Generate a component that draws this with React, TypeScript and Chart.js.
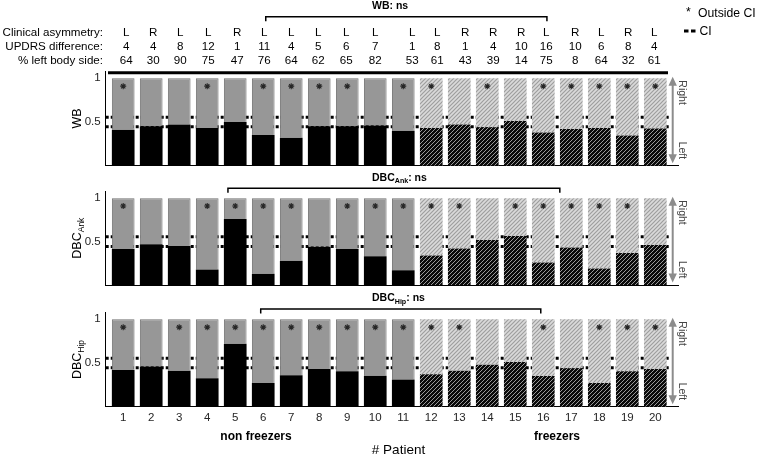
import React, { useEffect, useRef } from 'react';
import { Chart, registerables } from 'chart.js';
Chart.register(...registerables);

// ---------------- data ----------------
const patients = [1, 2, 3, 4, 5, 6, 7, 8, 9, 10, 11, 12, 13, 14, 15, 16, 17, 18, 19, 20];
const group = ['N', 'N', 'N', 'N', 'N', 'N', 'N', 'N', 'N', 'N', 'N', 'F', 'F', 'F', 'F', 'F', 'F', 'F', 'F', 'F'];
const clinicalAsymmetry = ['L', 'R', 'L', 'L', 'R', 'L', 'L', 'L', 'L', 'L', 'L', 'L', 'R', 'R', 'R', 'L', 'R', 'L', 'R', 'L'];
const updrsDifference = [4, 4, 8, 12, 1, 11, 4, 5, 6, 7, 1, 8, 1, 4, 10, 16, 10, 6, 8, 4];
const percentLeftBodySide = [64, 30, 90, 75, 47, 76, 64, 62, 65, 82, 53, 61, 43, 39, 14, 75, 8, 64, 32, 61];

const wbLeft = [0.41, 0.45, 0.47, 0.43, 0.5, 0.35, 0.32, 0.45, 0.45, 0.46, 0.4, 0.43, 0.47, 0.44, 0.51, 0.38, 0.42, 0.43, 0.345, 0.425];
const wbOutsideCI = [1, 0, 0, 1, 0, 1, 1, 1, 1, 0, 1, 1, 0, 1, 0, 1, 1, 1, 1, 1];
const ankLeft = [0.415, 0.47, 0.45, 0.18, 0.76, 0.13, 0.28, 0.44, 0.415, 0.33, 0.17, 0.34, 0.42, 0.52, 0.565, 0.26, 0.43, 0.19, 0.37, 0.46];
const ankOutsideCI = [1, 0, 0, 1, 1, 1, 1, 0, 1, 1, 1, 1, 1, 0, 1, 1, 1, 1, 1, 0];
const hipLeft = [0.42, 0.46, 0.41, 0.325, 0.72, 0.27, 0.36, 0.43, 0.405, 0.355, 0.31, 0.37, 0.41, 0.48, 0.51, 0.35, 0.44, 0.27, 0.405, 0.43];
const hipOutsideCI = [1, 0, 1, 1, 1, 1, 1, 1, 1, 1, 1, 1, 1, 0, 0, 1, 0, 1, 1, 1];

const ciLower = 0.445;
const ciUpper = 0.555;
const starLevel = 0.91;
const yTickValues = [0.5, 1];
const wbBracket = [6.09, 16.13];
const ankBracket = [4.74, 16.59];
const hipBracket = [5.91, 15.91];

// ---------------- layout / style ----------------
const W = 761;
const H = 457;
const FONT = '"Liberation Sans", Arial, Helvetica, sans-serif';
const X_MIN = 0.375;
const X_MAX = 20.81;
const CI_END = 20.5;
const AREA_LEFT = 105.7;
const AREA_RIGHT = 678;
const Y_AXIS_W = 40;
const X_AXIS_H = 30;
const headerNudge = [3, 2, 1, 1, 2, 1, 0, -1, -1, 0, 9, 6, 6, 6, 6, 3, 4, 2, 1, -1];

type Panel = {
  title: string;
  sub: string;
  left: number[];
  outside: number[];
  bracket: number[];
  top: number;
  bottom: number;
  bracketY: number;
  labelY: number;
  first: boolean;
  last: boolean;
};

const panels: Panel[] = [
  { title: 'WB', sub: '', left: wbLeft, outside: wbOutsideCI, bracket: wbBracket, top: 71.3, bottom: 165.7, bracketY: 16.7, labelY: 6, first: true, last: false },
  { title: 'DBC', sub: 'Ank', left: ankLeft, outside: ankOutsideCI, bracket: ankBracket, top: 191.3, bottom: 285, bracketY: 188.3, labelY: 178, first: false, last: false },
  { title: 'DBC', sub: 'Hip', left: hipLeft, outside: hipOutsideCI, bracket: hipBracket, top: 312.3, bottom: 406.7, bracketY: 309, labelY: 298.5, first: false, last: true },
];

function makeHatch(ctx: CanvasRenderingContext2D, base: string, stripe: string, lw: number) {
  const c = document.createElement('canvas');
  c.width = 4;
  c.height = 4;
  const g = c.getContext('2d')!;
  g.fillStyle = base;
  g.fillRect(0, 0, 4, 4);
  g.strokeStyle = stripe;
  g.lineWidth = lw;
  g.beginPath();
  g.moveTo(-1, 5);
  g.lineTo(5, -1);
  g.moveTo(-1, 1);
  g.lineTo(1, -1);
  g.moveTo(3, 5);
  g.lineTo(5, 3);
  g.stroke();
  return ctx.createPattern(c, 'repeat') as CanvasPattern;
}

function drawMixed(ctx: CanvasRenderingContext2D, parts: { t: string; sub?: boolean }[], x: number, y: number, size: number, bold: boolean) {
  const w = bold ? 'bold ' : '';
  let cx = x;
  parts.forEach((p) => {
    const s = p.sub ? size * 0.68 : size;
    ctx.font = `${w}${s}px ${FONT}`;
    ctx.fillText(p.t, cx, y + (p.sub ? size * 0.3 : 0));
    cx += ctx.measureText(p.t).width;
  });
  return cx - x;
}

function measureMixed(ctx: CanvasRenderingContext2D, parts: { t: string; sub?: boolean }[], size: number, bold: boolean) {
  const w = bold ? 'bold ' : '';
  let total = 0;
  parts.forEach((p) => {
    const s = p.sub ? size * 0.68 : size;
    ctx.font = `${w}${s}px ${FONT}`;
    total += ctx.measureText(p.t).width;
  });
  return total;
}

function decoPlugin(p: Panel) {
  return {
    id: 'deco',
    afterDraw(chart: any) {
      const { ctx, chartArea: a, scales } = chart;
      const x = scales.x;
      const y = scales.y;
      ctx.save();
      ctx.fillStyle = '#000';
      ctx.textBaseline = 'middle';

      // y axis title
      const titleParts = p.sub ? [{ t: p.title }, { t: p.sub, sub: true }] : [{ t: p.title }];
      ctx.save();
      ctx.translate(78, (a.top + a.bottom) / 2);
      ctx.rotate(-Math.PI / 2);
      ctx.textAlign = 'left';
      const tw = measureMixed(ctx, titleParts, 12.5, false);
      drawMixed(ctx, titleParts, -tw / 2, 0, 12.5, false);
      ctx.restore();

      // significance bracket
      const bx1 = x.getPixelForValue(p.bracket[0]);
      const bx2 = x.getPixelForValue(p.bracket[1]);
      ctx.strokeStyle = '#000';
      ctx.lineWidth = 1.5;
      ctx.beginPath();
      ctx.moveTo(bx1, p.bracketY + 4.5);
      ctx.lineTo(bx1, p.bracketY);
      ctx.lineTo(bx2, p.bracketY);
      ctx.lineTo(bx2, p.bracketY + 4.5);
      ctx.stroke();
      ctx.textAlign = 'left';
      const lblParts = p.sub ? [{ t: p.title }, { t: p.sub, sub: true }, { t: ': ns' }] : [{ t: p.title + ': ns' }];
      drawMixed(ctx, lblParts, 372, p.labelY, 10.5, true);

      // right/left arrow
      const ax = a.right - 5.3;
      const yt = y.getPixelForValue(1) - 1.6;
      const yb = a.bottom - 2.4;
      ctx.strokeStyle = '#8c8c8c';
      ctx.fillStyle = '#8c8c8c';
      ctx.lineWidth = 2;
      ctx.beginPath();
      ctx.moveTo(ax, yt + 6);
      ctx.lineTo(ax, yb - 6);
      ctx.stroke();
      ctx.beginPath();
      ctx.moveTo(ax, yt);
      ctx.lineTo(ax - 4.2, yt + 9);
      ctx.lineTo(ax + 4.2, yt + 9);
      ctx.closePath();
      ctx.fill();
      ctx.beginPath();
      ctx.moveTo(ax, yb);
      ctx.lineTo(ax - 4.2, yb - 9);
      ctx.lineTo(ax + 4.2, yb - 9);
      ctx.closePath();
      ctx.fill();
      ctx.fillStyle = '#444';
      ctx.font = `10.5px ${FONT}`;
      ctx.save();
      ctx.translate(681.5, y.getPixelForValue(1) + 2);
      ctx.rotate(Math.PI / 2);
      ctx.textAlign = 'left';
      ctx.fillText('Right', 0, 0);
      ctx.restore();
      ctx.save();
      ctx.translate(681.5, a.bottom - 6.5);
      ctx.rotate(Math.PI / 2);
      ctx.textAlign = 'right';
      ctx.fillText('Left', 0, 0);
      ctx.restore();
      ctx.fillStyle = '#000';

      if (p.first) {
        // thick line above the first panel
        ctx.strokeStyle = '#000';
        ctx.lineWidth = 3;
        ctx.beginPath();
        ctx.moveTo(a.left + 2.3, a.top + 1.4);
        ctx.lineTo(668, a.top + 1.4);
        ctx.stroke();

        // header table
        ctx.font = `11.6px ${FONT}`;
        ctx.textAlign = 'right';
        const rowsY = [32.7, 46.7, 60.7];
        ctx.fillText('Clinical asymmetry:', 103, rowsY[0]);
        ctx.fillText('UPDRS difference:', 103, rowsY[1]);
        ctx.fillText('% left body side:', 103, rowsY[2]);
        ctx.textAlign = 'center';
        patients.forEach((pt, i) => {
          const cx = x.getPixelForValue(pt) + headerNudge[i];
          ctx.fillText(clinicalAsymmetry[i], cx, rowsY[0]);
          ctx.fillText(String(updrsDifference[i]), cx, rowsY[1]);
          ctx.fillText(String(percentLeftBodySide[i]), cx, rowsY[2]);
        });

        // legend
        ctx.textAlign = 'left';
        ctx.font = `12.2px ${FONT}`;
        ctx.fillText('*', 686, 13);
        ctx.fillText('Outside CI', 698, 14);
        ctx.fillText('CI', 699.5, 32);
        ctx.lineWidth = 3;
        ctx.beginPath();
        ctx.moveTo(684, 31);
        ctx.lineTo(688.5, 31);
        ctx.moveTo(691, 31);
        ctx.lineTo(695.5, 31);
        ctx.stroke();
      }

      if (p.last) {
        ctx.textAlign = 'center';
        ctx.font = `bold 12px ${FONT}`;
        ctx.fillText('non freezers', 256, 437);
        ctx.fillText('freezers', 557, 437);
        ctx.font = `13.5px ${FONT}`;
        ctx.fillText('# Patient', 398.5, 450);
      }
      ctx.restore();
    },
  };
}

function PanelChart({ p }: { p: Panel }) {
  const ref = useRef<HTMLCanvasElement | null>(null);
  useEffect(() => {
    const canvas = ref.current!;
    const ctx = canvas.getContext('2d')!;
    const lightHatch = makeHatch(ctx, '#dadada', '#9e9e9e', 1.2);
    const darkHatch = makeHatch(ctx, '#0a0a0a', '#9a9a9a', 1.0);
    const isF = (i: number) => group[i] === 'F';
    const xh = p.last ? X_AXIS_H : 0;

    const chart = new Chart(canvas, {
      type: 'bar',
      data: {
        datasets: [
          {
            type: 'line',
            data: [{ x: X_MIN, y: ciLower }, { x: CI_END, y: ciLower }],
            borderColor: '#000',
            borderWidth: 3,
            borderDash: [3, 2],
            pointRadius: 0,
            stack: 'ciLow',
            order: 3,
          } as any,
          {
            type: 'line',
            data: [{ x: X_MIN, y: ciUpper }, { x: CI_END, y: ciUpper }],
            borderColor: '#000',
            borderWidth: 3,
            borderDash: [3, 2],
            pointRadius: 0,
            stack: 'ciHigh',
            order: 3,
          } as any,
          {
            type: 'bar',
            data: patients.map((pt, i) => ({ x: pt, y: p.left[i] })),
            backgroundColor: patients.map((_, i) => (isF(i) ? darkHatch : '#000')),
            borderWidth: 0,
            barPercentage: 0.81,
            categoryPercentage: 1,
            stack: 'bars',
            order: 2,
          } as any,
          {
            type: 'bar',
            data: patients.map((pt, i) => ({ x: pt, y: 1 - p.left[i] })),
            backgroundColor: patients.map((_, i) => (isF(i) ? lightHatch : '#979797')),
            borderColor: patients.map((_, i) => (isF(i) ? 'rgba(0,0,0,0)' : '#727272')),
            borderWidth: patients.map((_, i) => (isF(i) ? 0 : 1)),
            borderSkipped: 'bottom',
            barPercentage: 0.81,
            categoryPercentage: 1,
            stack: 'bars',
            order: 2,
          } as any,
          {
            type: 'scatter',
            data: patients
              .map((pt, i) => ({ x: pt, y: starLevel, s: p.outside[i] }))
              .filter((d) => d.s === 1)
              .map((d) => ({ x: d.x, y: d.y })),
            pointStyle: 'star',
            pointRadius: 3,
            borderColor: '#262626',
            backgroundColor: '#262626',
            borderWidth: 1.1,
            stack: 'stars',
            order: 1,
          } as any,
        ],
      },
      options: {
        responsive: false,
        devicePixelRatio: 1,
        animation: false,
        events: [],
        layout: {
          autoPadding: false,
          padding: { left: AREA_LEFT - Y_AXIS_W, right: W - AREA_RIGHT, top: p.top, bottom: H - p.bottom - xh },
        } as any,
        plugins: { legend: { display: false }, tooltip: { enabled: false } },
        scales: {
          x: {
            type: 'linear',
            min: X_MIN,
            max: X_MAX,
            offset: false,
            stacked: true,
            grid: { display: false, drawTicks: false },
            border: { display: true, color: '#000', width: 1 },
            afterBuildTicks: (s: any) => {
              s.ticks = patients.map((v) => ({ value: v }));
            },
            afterFit: (s: any) => {
              s.height = xh;
            },
            ticks: {
              display: p.last,
              autoSkip: false,
              maxRotation: 0,
              padding: 4,
              color: '#262626',
              font: { family: FONT, size: 11.5 },
              callback: (v: any) => String(v),
            },
          },
          y: {
            type: 'linear',
            min: 0,
            max: 1.08,
            stacked: true,
            grid: { display: false, drawTicks: false },
            border: { display: true, color: '#000', width: 1 },
            afterBuildTicks: (s: any) => {
              s.ticks = yTickValues.map((v) => ({ value: v }));
            },
            afterFit: (s: any) => {
              s.width = Y_AXIS_W;
            },
            ticks: {
              padding: 5,
              color: '#262626',
              font: { family: FONT, size: 11.5 },
              callback: (v: any) => String(v),
            },
          },
        },
      } as any,
      plugins: [decoPlugin(p)],
    });
    return () => chart.destroy();
  }, [p]);
  return <canvas ref={ref} width={W} height={H} style={{ position: 'absolute', left: 0, top: 0, width: W, height: H }} />;
}

export default function App() {
  return (
    <div style={{ position: 'absolute', left: 0, top: 0, width: W, height: H, background: '#fff', overflow: 'hidden' }}>
      {panels.map((p, i) => (
        <PanelChart key={i} p={p} />
      ))}
    </div>
  );
}
